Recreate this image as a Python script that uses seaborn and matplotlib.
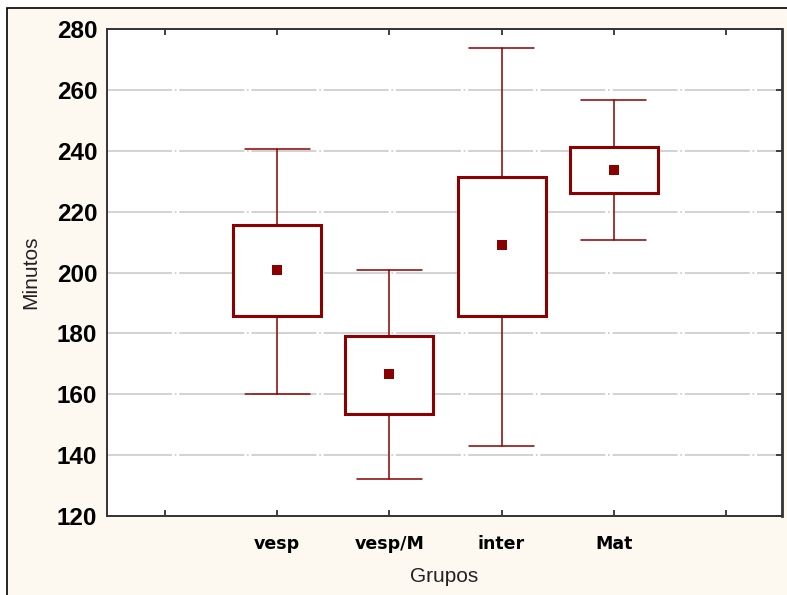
import pandas as pd
import seaborn as sns
import matplotlib.pyplot as plt
from matplotlib.patches import Rectangle
from matplotlib.transforms import ScaledTranslation

# values
groups = ['vesp', 'vesp/M', 'inter', 'Mat']
means = [200.8, 166.7, 208.9, 233.8]
box_low = [185.7, 153.5, 185.7, 226.0]
box_high = [215.6, 179.1, 231.5, 241.3]
whisk_low = [160.1, 132.1, 143.1, 210.8]
whisk_high = [240.6, 200.8, 273.9, 256.6]
x_ticklabels = [''] + groups + ['']
y_ticks = [120, 140, 160, 180, 200, 220, 240, 260, 280]

red = '#8b0000'
cream = '#fdf8f0'

sns.set_style('white')
plt.rcParams['font.family'] = ['Liberation Sans', 'DejaVu Sans']

W, H = 787, 595
fig = plt.figure(figsize=(W / 100, H / 100), dpi=100)
fig.patch.set_facecolor('white')
fig.add_artist(Rectangle((7 / W, -0.1), 1.2, 1.1 - 8 / H, transform=fig.transFigure,
                         facecolor=cream, edgecolor='black', linewidth=1.2, zorder=-5))

ax = fig.add_axes([107 / W, (H - 516) / H, 675 / W, 487 / H])
ax.set_facecolor('white')

pos = list(range(1, len(groups) + 1))
stats = []
for g, m, lo, hi, wl, wh in zip(groups, means, box_low, box_high, whisk_low, whisk_high):
    stats.append({'label': g, 'med': m, 'q1': lo, 'q3': hi, 'whislo': wl, 'whishi': wh, 'fliers': []})

ax.bxp(stats, positions=pos, widths=0.785, capwidths=0.58, patch_artist=True,
       showfliers=False, manage_ticks=False,
       boxprops=dict(facecolor='white', edgecolor=red, linewidth=2.2),
       whiskerprops=dict(color=red, linewidth=1.1),
       capprops=dict(color=red, linewidth=1.1),
       medianprops=dict(visible=False), zorder=3)

df = pd.DataFrame({'pos': pos, 'mean': means})
sns.scatterplot(data=df, x='pos', y='mean', marker='s', s=42, color=red,
                edgecolor=red, linewidth=0, ax=ax, zorder=4)

ax.set_xlim(-0.517, 5.5)
ax.set_ylim(120, 280)
ax.set_xticks(range(len(x_ticklabels)))
ax.set_xticklabels(x_ticklabels, fontfamily='DejaVu Sans', fontweight='bold',
                   fontsize=12.5, color='black')
shift = ScaledTranslation(-8 / 100, 0, fig.dpi_scale_trans)
for lbl in ax.get_xticklabels():
    lbl.set_transform(lbl.get_transform() + shift)
ax.set_yticks(y_ticks)
ax.set_yticklabels([str(v) for v in y_ticks], fontweight='bold', fontsize=17.5, color='black')

ax.yaxis.grid(True, color='#cfcfcf', linewidth=1.3, linestyle=(0, (36, 1.5, 1, 1.5)), zorder=0)
ax.xaxis.grid(False)
ax.set_axisbelow(True)

ax.tick_params(axis='x', direction='in', top=True, bottom=True, length=4, width=1.3,
               color='#333333', pad=14)
ax.tick_params(axis='y', direction='in', left=False, right=True, labelleft=True,
               length=4, width=1.3, color='#333333', pad=7)
for s in ax.spines.values():
    s.set_color('#333333')
    s.set_linewidth(1.4)
ax.spines['right'].set_linewidth(2)

ax.set_xlabel('Grupos', fontsize=15, color='#222222')
ax.set_ylabel('Minutos', fontsize=15, color='#222222')
ax.xaxis.set_label_coords(0.5, -0.105)
ax.yaxis.set_label_coords(-0.099, 0.5)

fig.savefig('out.png', dpi=100, facecolor=fig.get_facecolor())
